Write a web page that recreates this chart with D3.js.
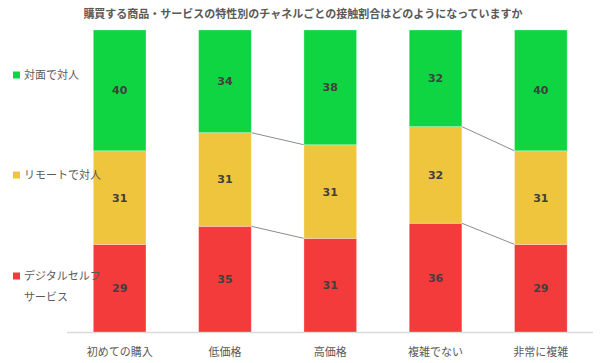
<!DOCTYPE html>
<html><head><meta charset="utf-8">
<script src="https://cdn.jsdelivr.net/npm/d3@7"></script>
<style>body{margin:0;background:#fff}</style>
</head><body>
<svg id="c" width="605" height="363"></svg>
<script>
const title = "購買する商品・サービスの特性別のチャネルごとの接触割合はどのようになっていますか";
const categories = ["初めての購入", "低価格", "高価格", "複雑でない", "非常に複雑"];
const seriesNames = ["デジタルセルフサービス", "リモートで対人", "対面で対人"];
const digitalSelf = [29, 35, 31, 36, 29];
const remote = [31, 31, 31, 32, 31];
const faceToFace = [40, 34, 38, 32, 40];
const seriesLinePairs = [[1, 2], [3, 4]];

const colors = ["#f43b3c", "#f0c53e", "#0fd542"];
const legendLines = [["デジタルセルフ", "サービス"], ["リモートで対人"], ["対面で対人"]];

const svg = d3.select("#c");
const x = d3.scaleBand().domain(categories).range([67, 593.5]).paddingInner(0.5).paddingOuter(0.25);
const y = d3.scaleLinear().domain([0, 100]).range([332, 30]);

const rows = categories.map((c, i) => ({cat: c, s0: digitalSelf[i], s1: remote[i], s2: faceToFace[i]}));
const stack = d3.stack().keys(["s0", "s1", "s2"])(rows);

svg.append("text").attr("x", 303).attr("y", 18).attr("text-anchor", "middle")
  .attr("font-family", "Noto Sans CJK JP").attr("font-weight", "bold").attr("font-size", 11)
  .attr("fill", "#595959").text(title);

// axis line
svg.append("line").attr("x1", 67).attr("x2", 593).attr("y1", 332.5).attr("y2", 332.5)
  .attr("stroke", "#d9d9d9").attr("stroke-width", 1.5);

// series lines
const g = svg.append("g");
seriesLinePairs.forEach(([a, b]) => {
  [0, 1].forEach(k => {
    g.append("line")
      .attr("x1", x(categories[a]) + x.bandwidth()).attr("y1", y(stack[k][a][1]))
      .attr("x2", x(categories[b])).attr("y2", y(stack[k][b][1]))
      .attr("stroke", "#8c8c8c").attr("stroke-width", 1);
  });
});

stack.forEach((s, si) => {
  g.selectAll(null).data(s).enter().append("rect")
    .attr("x", d => x(d.data.cat)).attr("width", x.bandwidth())
    .attr("y", d => y(d[1])).attr("height", d => y(d[0]) - y(d[1]))
    .attr("fill", colors[si]).attr("stroke", "#ffffff").attr("stroke-opacity", 0.35).attr("stroke-width", 0.8);
  g.selectAll(null).data(s).enter().append("text")
    .attr("x", d => x(d.data.cat) + x.bandwidth() / 2)
    .attr("y", d => (y(d[0]) + y(d[1])) / 2 + 4)
    .attr("text-anchor", "middle").attr("font-family", "DejaVu Sans").attr("font-weight", "bold")
    .attr("font-size", 11).attr("fill", "#404040")
    .text(d => d[1] - d[0]);
});

// category labels
svg.selectAll(null).data(categories).enter().append("text")
  .attr("x", d => x(d) + x.bandwidth() / 2).attr("y", 356).attr("text-anchor", "middle")
  .attr("font-family", "Noto Sans CJK JP").attr("font-size", 11).attr("fill", "#595959").text(d => d);

// legend
const legendY = [276, 175, 75];
legendLines.forEach((lines, i) => {
  svg.append("rect").attr("x", 13).attr("y", legendY[i] - 3.5).attr("width", 7).attr("height", 7).attr("fill", colors[i]);
  lines.forEach((t, j) => {
    svg.append("text").attr("x", 24).attr("y", legendY[i] + 4 + j * 21)
      .attr("font-family", "Noto Sans CJK JP").attr("font-size", 11).attr("fill", "#595959").text(t);
  });
});
</script>
</body></html>
